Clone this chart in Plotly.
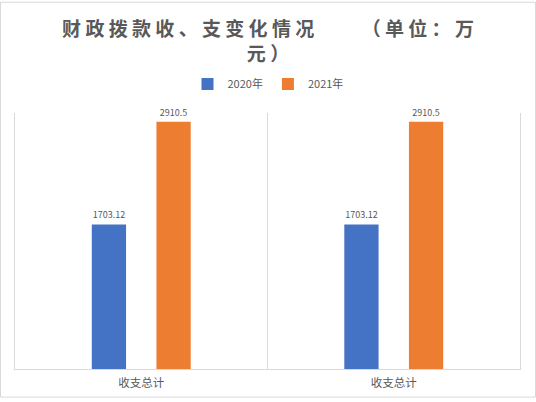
import plotly.graph_objects as go

categories = ["收支总计", "收支总计"]
series_names = ["2020年", "2021年"]
values_2020 = [1703.12, 1703.12]
values_2021 = [2910.5, 2910.5]
colors = ["#4472C4", "#ED7D31"]

NB = "\u00a0"
title_line1 = NB.join("财政拨款收、支变化情况") + NB * 11 + NB.join("（单位：万")
title_line2 = NB.join("元）")

x_idx = list(range(len(categories)))

fig = go.Figure()
for name, vals, col in zip(series_names, [values_2020, values_2021], colors):
    fig.add_trace(go.Bar(
        x=x_idx, y=vals, name=name, marker=dict(color=col, line=dict(width=0)),
        text=[f"{v:g}" for v in vals], texttemplate="%{text}",
        textposition="outside", textangle=0,
        textfont=dict(size=9, color="#595959", family="Noto Sans CJK SC"),
        cliponaxis=False,
    ))

W, H = 536, 402
ml, mr, mt, mb = 15, 16, 113, 29
pw, ph = W - ml - mr, H - mt - mb

fig.update_layout(
    width=W, height=H,
    margin=dict(l=ml, r=mr, t=mt, b=mb, pad=0),
    paper_bgcolor="white", plot_bgcolor="white",
    barmode="group", bargap=0.488, bargroupgap=0.47,
    font=dict(family="Noto Sans CJK SC", color="#595959"),
    title=dict(
        text=title_line1 + "<br>" + title_line2,
        x=0.5, xref="container", xanchor="center",
        y=1 - 36 / H, yref="container", yanchor="top",
        font=dict(size=19, color="#595959", family="Noto Sans CJK SC", weight="bold"),
    ),
    legend=dict(
        orientation="h", x=0.5, xanchor="center", xref="container",
        y=1 - 84 / H, yanchor="middle", yref="container",
        font=dict(size=11, color="#595959"), itemwidth=30,
        bgcolor="rgba(0,0,0,0)",
    ),
    xaxis=dict(
        range=[-0.5, 1.5], tickmode="array", tickvals=x_idx, ticktext=categories,
        showgrid=False, zeroline=False, showline=True, linecolor="#d9d9d9", linewidth=1,
        ticks="", tickfont=dict(size=11.5, color="#595959"), ticklabelstandoff=3,
        minor=dict(tickmode="array", tickvals=[0.5], showgrid=True, gridcolor="#d9d9d9", gridwidth=1, ticks=""),
    ),
    yaxis=dict(
        range=[0, 3015], showticklabels=False, showgrid=False, zeroline=False,
        showline=True, mirror=True, linecolor="#d9d9d9", linewidth=1, ticks="",
    ),
    shapes=[dict(
        type="rect", xref="paper", yref="paper",
        x0=(0.5 - ml) / pw, x1=(W - 0.5 - ml) / pw,
        y0=-(mb - 0.5) / ph, y1=1 + (mt - 0.5) / ph,
        line=dict(color="#d9d9d9", width=1), fillcolor="rgba(0,0,0,0)", layer="below",
    )],
)

fig.write_html(
    "out.html",
    config={"displayModeBar": False},
    post_script="document.body.style.margin='0px';document.body.style.overflow='hidden';",
)
